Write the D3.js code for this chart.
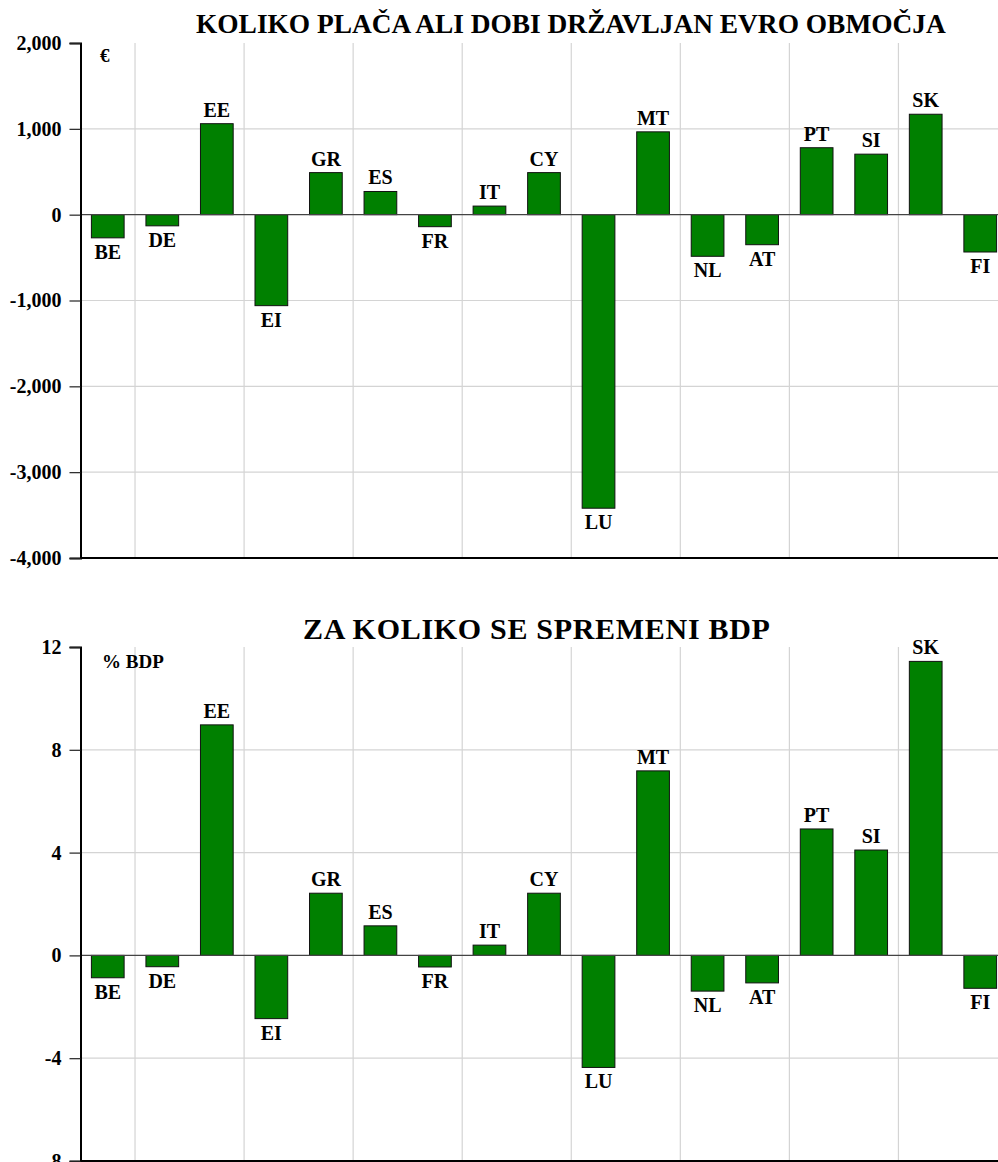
<!DOCTYPE html>
<html>
<head>
<meta charset="utf-8">
<script src="https://cdn.jsdelivr.net/npm/d3@7"></script>
<style>
  html, body { margin: 0; padding: 0; background: #fff; overflow: hidden; }
  svg { display: block; }
  text { font-family: "Liberation Serif", "Times New Roman", serif; font-weight: bold; fill: #000; }
</style>
</head>
<body>
<svg id="chart" width="998" height="1162"></svg>
<script>
// Euro-area member states
const countries = ["BE","DE","EE","EI","GR","ES","FR","IT","CY","LU","MT","NL","AT","PT","SI","SK","FI"];

// How much each citizen pays or receives (EUR)
const perCitizen = [-270,-130,1060,-1060,490,270,-140,100,490,-3420,965,-485,-350,780,705,1170,-435];

// Change in GDP (% of GDP)
const gdpChange = [-0.87,-0.44,8.97,-2.46,2.42,1.15,-0.45,0.40,2.42,-4.36,7.18,-1.39,-1.07,4.92,4.10,11.44,-1.28];

const perCitizenTicks = [-4000,-3000,-2000,-1000,0,1000,2000];
const gdpTicks = [-8,-4,0,4,8,12];

const titleTop = "KOLIKO PLAČA ALI DOBI DRŽAVLJAN EVRO OBMOČJA";
const titleBottom = "ZA KOLIKO SE SPREMENI BDP";

const svg = d3.select("#chart");
const left = 80.5;
const right = 1007.5;

const x = d3.scaleBand()
  .domain(countries)
  .range([left, right])
  .paddingInner(0.4)
  .paddingOuter(0.2);

function drawPanel(cfg) {
  const g = svg.append("g");
  const y = d3.scaleLinear().domain(cfg.domain).range([cfg.bottom, cfg.top]);
  const step = x.step();

  // vertical grid lines after every second country
  g.append("g").selectAll("line").data(d3.range(1, countries.length + 1, 2)).join("line")
    .attr("x1", i => left + i * step)
    .attr("x2", i => left + i * step)
    .attr("y1", cfg.top)
    .attr("y2", cfg.bottom)
    .attr("stroke", "#d4d4d4")
    .attr("stroke-width", 1.2);

  // horizontal grid lines
  g.append("g").selectAll("line").data(cfg.grid).join("line")
    .attr("x1", left)
    .attr("x2", right)
    .attr("y1", d => y(d))
    .attr("y2", d => y(d))
    .attr("stroke", "#d4d4d4")
    .attr("stroke-width", 1.2);

  // bars
  g.append("g").selectAll("rect").data(cfg.values).join("rect")
    .attr("x", (d, i) => x(countries[i]))
    .attr("width", x.bandwidth())
    .attr("y", d => y(Math.max(0, d)))
    .attr("height", d => Math.abs(y(d) - y(0)))
    .attr("fill", "#008000")
    .attr("stroke", "#111")
    .attr("stroke-width", 1);

  // zero line
  g.append("line")
    .attr("x1", left).attr("x2", right)
    .attr("y1", y(0)).attr("y2", y(0))
    .attr("stroke", "#444").attr("stroke-width", 1.3);

  // bottom axis line
  g.append("line")
    .attr("x1", left).attr("x2", right)
    .attr("y1", y(cfg.domain[0])).attr("y2", y(cfg.domain[0]))
    .attr("stroke", "#000").attr("stroke-width", 2);

  // country labels
  g.append("g").selectAll("text").data(cfg.values).join("text")
    .attr("x", (d, i) => x(countries[i]) + x.bandwidth() / 2)
    .attr("y", d => d >= 0 ? y(d) - 7 : y(d) + 21)
    .attr("text-anchor", "middle")
    .attr("font-size", 20)
    .text((d, i) => countries[i]);

  // value axis
  const axis = d3.axisLeft(y)
    .tickValues(cfg.ticks)
    .tickSize(11)
    .tickPadding(8)
    .tickFormat(d => d3.format(",")(d).replace("\u2212", "-"));
  const ax = g.append("g").attr("transform", `translate(${left},0)`).call(axis);
  ax.select(".domain").attr("stroke", "#000").attr("stroke-width", 2);
  ax.selectAll(".tick line").attr("stroke", "#222").attr("stroke-width", 1.2);
  ax.selectAll(".tick text")
    .attr("font-family", "Liberation Serif, serif")
    .attr("font-weight", "bold")
    .attr("font-size", 20)
    .attr("fill", "#000");

  // unit label
  g.append("text")
    .attr("x", cfg.unitX).attr("y", cfg.unitY)
    .attr("font-size", 19)
    .text(cfg.unit);

  // title
  g.append("text")
    .attr("x", cfg.titleX).attr("y", cfg.titleY)
    .attr("font-size", cfg.titleSize)
    .attr("letter-spacing", cfg.titleSpacing)
    .text(cfg.title);
}

drawPanel({
  values: perCitizen,
  domain: [-4000, 2000],
  top: 43,
  bottom: 558,
  ticks: perCitizenTicks,
  grid: [-3000, -2000, -1000, 1000],
  unit: "€",
  unitX: 100, unitY: 62,
  title: titleTop,
  titleSize: 27.4, titleSpacing: 0,
  titleX: 196, titleY: 33
});

drawPanel({
  values: gdpChange,
  domain: [-8, 12],
  top: 647,
  bottom: 1161,
  ticks: gdpTicks,
  grid: [-4, 4, 8],
  unit: "% BDP",
  unitX: 102, unitY: 668,
  title: titleBottom,
  titleSize: 30, titleSpacing: 0.7,
  titleX: 303, titleY: 639
});
</script>
</body>
</html>
